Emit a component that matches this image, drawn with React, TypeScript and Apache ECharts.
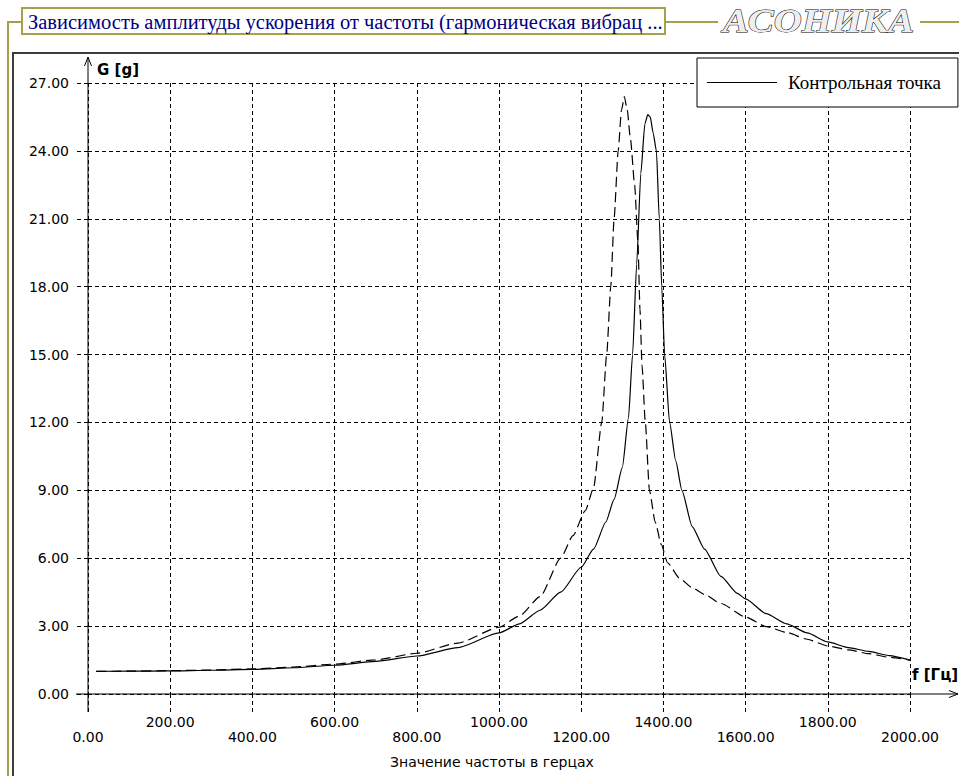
import React, { useEffect, useRef } from 'react';
import * as echarts from 'echarts';

// ---- data ----
const titleText = 'Зависимость амплитуды ускорения от частоты (гармоническая вибрац ...';
const logoText = 'АСОНИКА';
const legendName = 'Контрольная точка';
const secondName = 'Вторая точка';
const xAxisName = 'Значение частоты в герцах';
const yUnit = 'G [g]';
const xUnit = 'f [Гц]';

const xMin = 0;
const xMax = 2000;
const xStep = 200;
const yMin = 0;
const yMax = 27;
const yStep = 3;
const xTickValues = [0, 200, 400, 600, 800, 1000, 1200, 1400, 1600, 1800, 2000];

const solidFreq = [20, 100, 200, 300, 400, 500, 600, 700, 800, 900, 1000, 1050, 1100, 1150, 1200, 1230, 1260, 1280, 1300, 1315, 1325, 1335, 1345, 1355, 1362, 1368, 1375, 1383, 1390, 1396, 1403, 1415, 1430, 1445, 1470, 1500, 1540, 1580, 1600, 1650, 1700, 1750, 1800, 1850, 1900, 1950, 2000];
const solidG = [1.0, 1.01, 1.02, 1.05, 1.09, 1.16, 1.27, 1.44, 1.68, 2.05, 2.7, 3.1, 3.7, 4.5, 5.6, 6.4, 7.6, 8.6, 10.0, 12.2, 15, 19, 23, 25.2, 25.6, 25.5, 24.8, 24, 21, 18, 15, 12, 10.3, 9, 7.4, 6.4, 5.2, 4.45, 4.2, 3.55, 3.1, 2.7, 2.3, 2.05, 1.88, 1.7, 1.5];

const dashedFreq = [20, 100, 200, 300, 400, 500, 600, 700, 800, 900, 1000, 1050, 1100, 1150, 1180, 1210, 1230, 1250, 1262, 1272, 1280, 1290, 1298, 1305, 1312, 1320, 1330, 1338, 1343, 1348, 1356, 1366, 1380, 1395, 1410, 1440, 1470, 1500, 1540, 1600, 1650, 1700, 1750, 1800, 1850, 1900, 1950, 2000];
const dashedG = [1.0, 1.01, 1.03, 1.06, 1.11, 1.19, 1.32, 1.51, 1.8, 2.25, 2.95, 3.45, 4.3, 6.0, 7.0, 8.1, 9.1, 12.0, 15, 18, 21, 24, 25.8, 26.4, 25.8, 24.5, 22.5, 20, 17, 14.5, 12, 9, 7.6, 6.6, 5.8, 5.1, 4.7, 4.4, 4.0, 3.4, 2.98, 2.72, 2.42, 2.12, 1.95, 1.78, 1.62, 1.5];

// ---- layout / style ----
const GL = 88;
const GT = 83;
const GR = 910;
const GB = 694;
const OLIVE = '#a3a14a';
const SANS = '"DejaVu Sans", sans-serif';
const SERIF = '"Liberation Serif", serif';
const LABEL_HI = 722; // centre of the raised x labels
const LABEL_LO = 737; // centre of the lowered x labels

export default function App() {
  const ref = useRef<HTMLDivElement>(null);

  useEffect(() => {
    if (!ref.current) return;
    const chart = echarts.init(ref.current, undefined, { renderer: 'svg' });
    const fmt = (v: number) => v.toFixed(2);
    const dash = { color: '#000', type: [4, 3], width: 1 };

    const baseGraphic: any[] = [
      // olive outer frame
      { type: 'polyline', shape: { points: [[8, 776], [8, 22], [22, 22]] }, style: { stroke: OLIVE, lineWidth: 2, fill: null } },
      { type: 'line', shape: { x1: 665, y1: 22, x2: 718, y2: 22 }, style: { stroke: OLIVE, lineWidth: 2 } },
      { type: 'line', shape: { x1: 920, y1: 22, x2: 959, y2: 22 }, style: { stroke: OLIVE, lineWidth: 2 } },
      { type: 'rect', shape: { x: 22, y: 8, width: 643, height: 26 }, style: { fill: '#fff', stroke: OLIVE, lineWidth: 2 } },
      { type: 'text', x: 28, y: 22, style: { text: titleText, fill: '#000080', font: `20.5px ${SERIF}`, align: 'left', verticalAlign: 'middle' } },
      // logo (outlined italic lettering with a soft grey shadow)
      {
        type: 'text',
        x: 723,
        y: 21,
        scaleX: 1.14,
        style: {
          text: logoText,
          fill: '#efefef',
          stroke: '#000',
          lineWidth: 1,
          font: `italic bold 34px ${SERIF}`,
          align: 'left',
          verticalAlign: 'middle',
          shadowColor: 'rgba(0,0,0,0.45)',
          shadowOffsetX: 2,
          shadowOffsetY: 2,
          shadowBlur: 1,
        },
      },
      // inner panel border
      { type: 'polyline', shape: { points: [[13, 776], [13, 53], [959, 53]] }, style: { stroke: '#3c3c3c', lineWidth: 2, fill: null } },
      // axes
      { type: 'line', shape: { x1: GL, y1: 712, x2: GL, y2: 57 }, style: { stroke: '#000', lineWidth: 1 }, z: 10 },
      { type: 'polyline', shape: { points: [[84.5, 66], [88, 57], [91.5, 66]] }, style: { stroke: '#000', lineWidth: 1, fill: null }, z: 10 },
      { type: 'line', shape: { x1: 76, y1: GB, x2: 958, y2: GB }, style: { stroke: '#000', lineWidth: 1 }, z: 10 },
      { type: 'polyline', shape: { points: [[949, 690.5], [958, 694], [949, 697.5]] }, style: { stroke: '#000', lineWidth: 1, fill: null }, z: 10 },
      { type: 'text', x: 97, y: 70, style: { text: yUnit, fill: '#000', font: `bold 15px ${SANS}`, align: 'left', verticalAlign: 'middle' }, z: 10 },
      { type: 'text', x: 912, y: 675, style: { text: xUnit, fill: '#000', font: `bold 15px ${SANS}`, align: 'left', verticalAlign: 'middle' }, z: 10 },
      { type: 'text', x: 492, y: 762, style: { text: xAxisName, fill: '#000', font: `14px ${SANS}`, align: 'center', verticalAlign: 'middle' }, z: 10 },
    ];

    const option: any = {
      animation: false,
      backgroundColor: '#fff',
      color: ['#000', '#000'],
      grid: { left: GL, top: GT, right: 959 - GR, bottom: 776 - GB, containLabel: false },
      xAxis: {
        type: 'value',
        min: xMin,
        max: xMax,
        interval: xStep,
        axisLine: { show: false },
        axisTick: { show: true, length: 18, lineStyle: dash },
        splitLine: { show: true, lineStyle: dash },
        axisLabel: { show: false },
      },
      yAxis: {
        type: 'value',
        min: yMin,
        max: yMax,
        interval: yStep,
        axisLine: { show: false },
        axisTick: { show: true, length: 12, lineStyle: dash },
        splitLine: { show: true, lineStyle: dash },
        axisLabel: { margin: 19, color: '#000', fontFamily: SANS, fontSize: 14, formatter: fmt },
      },
      legend: {
        data: [legendName],
        left: 697,
        top: 58,
        icon: 'rect',
        itemWidth: 70,
        itemHeight: 1,
        padding: [15, 17, 15, 10],
        backgroundColor: '#fff',
        borderColor: '#000',
        borderWidth: 1,
        itemStyle: { color: '#000' },
        textStyle: { fontFamily: SERIF, fontSize: 19, color: '#000', padding: [0, 0, 0, 6] },
        selectedMode: false,
      },
      series: [
        {
          name: secondName,
          type: 'line',
          data: dashedFreq.map((f, i) => [f, dashedG[i]]),
          showSymbol: false,
          symbol: 'none',
          smooth: 0.2,
          smoothMonotone: 'x',
          lineStyle: { color: '#000', width: 1.2, type: [10, 5] },
          z: 3,
        },
        {
          name: legendName,
          type: 'line',
          data: solidFreq.map((f, i) => [f, solidG[i]]),
          showSymbol: false,
          symbol: 'none',
          smooth: 0.2,
          smoothMonotone: 'x',
          lineStyle: { color: '#000', width: 1.2, type: 'solid' },
          z: 4,
        },
      ],
      graphic: baseGraphic,
    };

    chart.setOption(option);

    // staggered x tick labels, placed through the axis scale
    const tickLabels = xTickValues.map((v, i) => {
      const px = chart.convertToPixel({ gridIndex: 0 }, [v, 0]) as number[];
      return {
        type: 'text',
        x: px[0],
        y: i % 2 === 0 ? LABEL_LO : LABEL_HI,
        z: 10,
        style: { text: fmt(v), fill: '#000', font: `14px ${SANS}`, align: 'center', verticalAlign: 'middle' },
      };
    });
    chart.setOption({ graphic: [...baseGraphic, ...tickLabels] });

    return () => chart.dispose();
  }, []);

  return (
    <div
      ref={ref}
      style={{ position: 'fixed', left: 0, top: 0, width: 959, height: 776, background: '#fff' }}
    />
  );
}
